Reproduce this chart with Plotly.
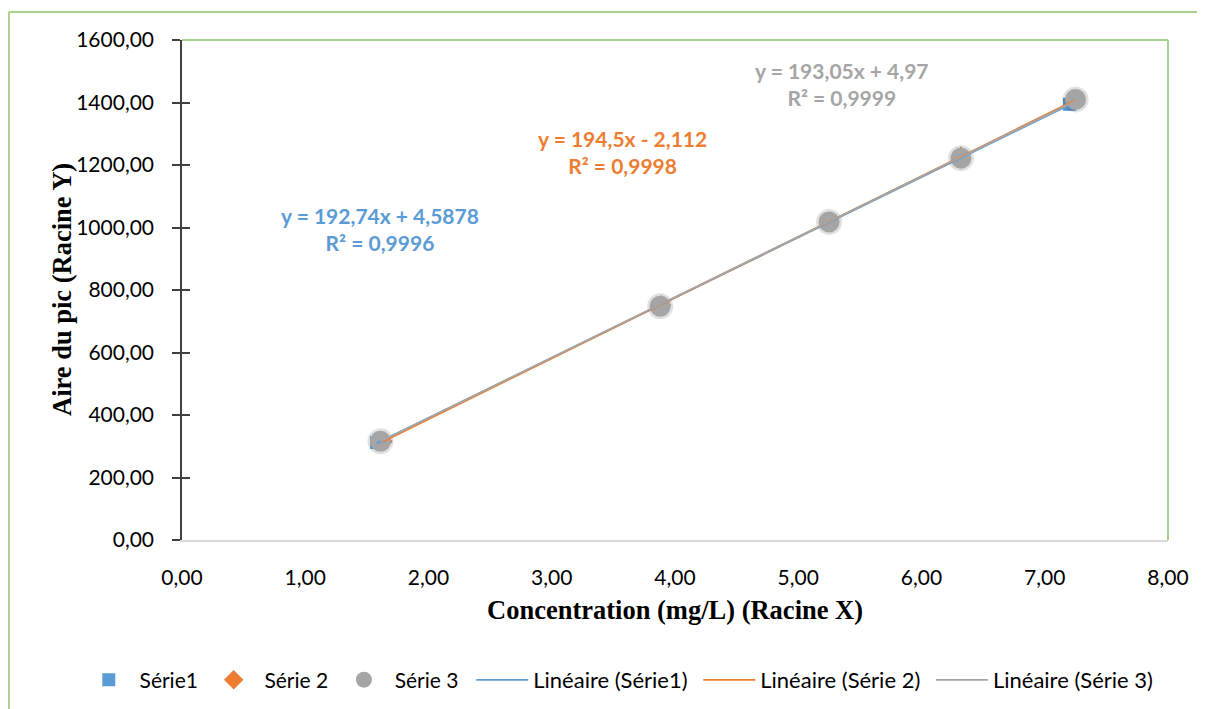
import plotly.graph_objects as go
import numpy as np

# ---- data ----
s1_x = [1.58, 3.87, 5.24, 6.31, 7.20]
s1_y = [312, 748, 1015, 1222, 1394]
s2_x = [1.63, 3.89, 5.25, 6.32, 7.24]
s2_y = [315, 752, 1020, 1228, 1407]
s3_x = [1.61, 3.88, 5.25, 6.32, 7.25]
s3_y = [316, 748, 1018, 1222, 1410]

fits = {
    "s1": (192.74, 4.5878),
    "s2": (194.5, -2.112),
    "s3": (193.05, 4.97),
}
eq_texts = {
    "s1": "y = 192,74x + 4,5878<br>R² = 0,9996",
    "s2": "y = 194,5x - 2,112<br>R² = 0,9998",
    "s3": "y = 193,05x + 4,97<br>R² = 0,9999",
}
eq_pos = {"s1": (1.607, 995), "s2": (3.57, 1242), "s3": (5.355, 1459)}

x_ticks = [0, 1, 2, 3, 4, 5, 6, 7, 8]
y_ticks = [0, 200, 400, 600, 800, 1000, 1200, 1400, 1600]
x_ticktext = ["0,00", "1,00", "2,00", "3,00", "4,00", "5,00", "6,00", "7,00", "8,00"]
y_ticktext = ["0,00", "200,00", "400,00", "600,00", "800,00", "1000,00", "1200,00", "1400,00", "1600,00"]

BLUE = "#5B9BD5"
ORANGE = "#ED7D31"
GRAY = "#A5A5A5"
GREEN = "#A9D18E"
FONT = "Lato"
NB = "\u00a0"

fig = go.Figure()

def line_for(xs, key):
    a, b = fits[key]
    xx = np.array([min(xs), max(xs)])
    return xx, a * xx + b

# markers
fig.add_trace(go.Scatter(x=s1_x, y=s1_y, mode="markers", name=NB * 2 + "Série1" + NB * 2,
                         legend="legend",
                         marker=dict(symbol="square", size=13, color=BLUE)))
fig.add_trace(go.Scatter(x=s2_x, y=s2_y, mode="markers", name=NB * 2 + "Série 2" + NB * 2,
                         legend="legend",
                         marker=dict(symbol="diamond", size=15, color=ORANGE)))
# shadow for gray circles
fig.add_trace(go.Scatter(x=s3_x, y=s3_y, mode="markers", showlegend=False, hoverinfo="skip",
                         marker=dict(symbol="circle", size=26, color="rgba(0,0,0,0.12)")))
fig.add_trace(go.Scatter(x=s3_x, y=s3_y, mode="markers", name=NB * 2 + "Série 3",
                         legend="legend",
                         marker=dict(symbol="circle", size=21, color=GRAY)))

# trend lines
for key, xs, col, nm in [("s1", s1_x, BLUE, "Linéaire (Série1)" + NB),
                         ("s2", s2_x, ORANGE, "Linéaire (Série 2)" + NB),
                         ("s3", s3_x, GRAY, "Linéaire (Série 3)")]:
    xx, yy = line_for(xs, key)
    fig.add_trace(go.Scatter(x=xx, y=yy, mode="lines", name=nm, legend="legend2",
                             line=dict(color=col, width=1.8)))

# equation annotations
for key, col in [("s1", BLUE), ("s2", ORANGE), ("s3", GRAY)]:
    x, y = eq_pos[key]
    fig.add_annotation(x=x, y=y, xref="x", yref="y", text="<b>" + eq_texts[key] + "</b>",
                       showarrow=False, align="center", xanchor="center", yanchor="middle",
                       font=dict(family=FONT, size=21, color=col))

# axis titles
fig.add_annotation(x=0.5, y=-0.14, xref="paper", yref="paper", showarrow=False,
                   xanchor="center", yanchor="middle",
                   text="<b>Concentration (mg/L) (Racine X)</b>",
                   font=dict(family="Liberation Serif", size=26.5, color="black"))
fig.add_annotation(x=-0.1217, y=0.5, xref="paper", yref="paper", showarrow=False,
                   xanchor="center", yanchor="middle",
                   textangle=-90, text="<b>Aire du pic (Racine Y)</b>",
                   font=dict(family="Liberation Serif", size=26.5, color="black"))

# plot border top/right and outer chart border
fig.add_shape(type="line", xref="paper", yref="paper", x0=0, x1=1, y0=1, y1=1,
              line=dict(color=GREEN, width=2))
fig.add_shape(type="line", xref="paper", yref="paper", x0=1, x1=1, y0=0, y1=1,
              line=dict(color=GREEN, width=2))
fig.add_shape(type="line", xref="paper", yref="paper", x0=-0.1755, x1=-0.1755, y0=-0.4, y1=1.056,
              line=dict(color=GREEN, width=2))
fig.add_shape(type="line", xref="paper", yref="paper", x0=-0.1755, x1=1.05, y0=1.056, y1=1.056,
              line=dict(color=GREEN, width=2))

legend_common = dict(orientation="h", xref="container", xanchor="left",
                     yref="paper", y=-0.28, yanchor="middle",
                     tracegroupgap=0, bgcolor="rgba(0,0,0,0)")

fig.update_layout(
    width=1197, height=701,
    margin=dict(l=174, r=37, t=32, b=169, autoexpand=False),
    paper_bgcolor="white", plot_bgcolor="white",
    font=dict(family=FONT, size=21, color="black"),
    showlegend=True,
    legend=dict(legend_common, x=0.0675, itemwidth=30,
                font=dict(family=FONT, size=21, color="black")),
    legend2=dict(legend_common, x=0.387, itemwidth=52,
                 font=dict(family=FONT, size=22, color="black")),
    xaxis=dict(range=[0, 8], tickvals=x_ticks, ticktext=x_ticktext, showgrid=False,
               zeroline=False, showline=True, linecolor="#D9D9D9", linewidth=2,
               ticks="", ticklabelstandoff=18, tickfont=dict(family=FONT, size=21)),
    yaxis=dict(range=[0, 1600], tickvals=y_ticks, ticktext=y_ticktext, showgrid=False,
               zeroline=False, showline=True, linecolor="#404040", linewidth=1.5,
               ticks="outside", ticklen=8, tickcolor="#404040", tickwidth=1.5,
               ticklabelstandoff=14, tickfont=dict(family=FONT, size=21)),
    yaxis2=dict(range=[0, 1600], tickvals=y_ticks, overlaying="y", side="left",
                showgrid=False, zeroline=False, showline=False, showticklabels=False,
                ticks="inside", ticklen=8, tickcolor="#404040", tickwidth=1.5),
)
# dummy trace to activate yaxis2
fig.add_trace(go.Scatter(x=[None], y=[None], yaxis="y2", showlegend=False, hoverinfo="skip"))

fig.write_html("out.html")
